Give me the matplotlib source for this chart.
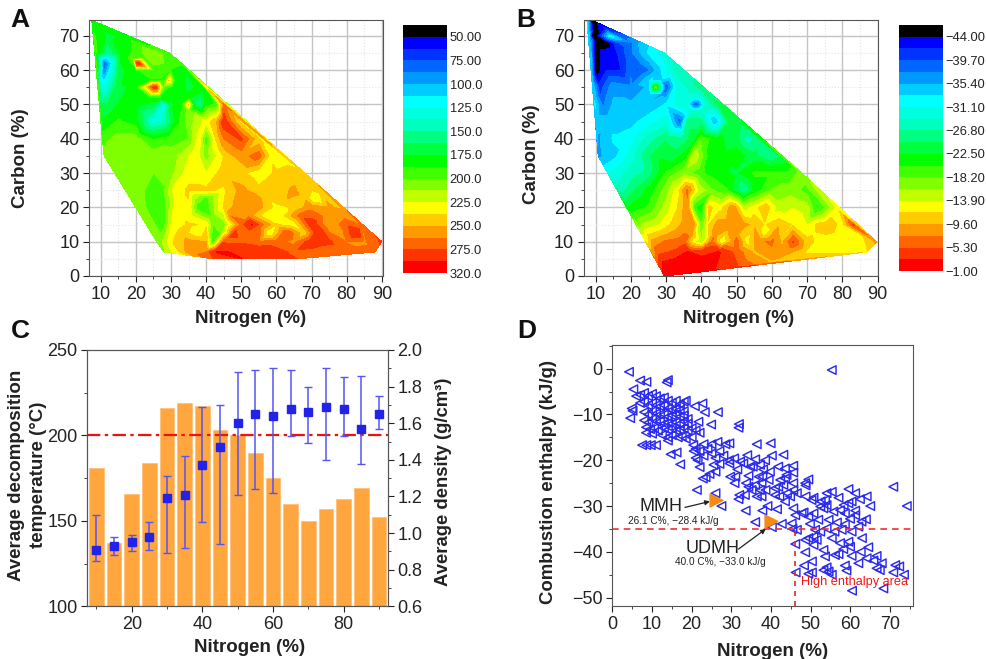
import matplotlib
matplotlib.use("Agg")
import matplotlib.pyplot as plt
from matplotlib.ticker import MultipleLocator
import numpy as np

# Data ---------------------------------------------------------------

# panel A, one row of readings per carbon level
a_carbon = [74.5, 70, 65, 63.5, 62, 60, 57, 55, 52, 50, 48, 45, 40, 35, 30, 25, 22.5, 20, 17.5, 15, 12.5, 10, 7, 5]
a_nitrogen = [
    [7.5],
    [8, 12, 16.5],
    [8.5, 12, 16, 20, 25, 29.5],
    [19, 22],
    [9, 11, 13, 20.5, 28, 33],
    [9, 11, 13, 15, 20, 25, 30, 34],
    [24, 27, 29.5, 31, 28],
    [9.5, 11, 15, 20, 25.5, 28, 30.5, 35, 39.5],
    [24, 27, 35],
    [10, 12, 15, 20, 25, 28, 30, 33, 35, 36.5, 38, 40, 43, 45],
    [35],
    [10.3, 15, 20, 25, 28, 32, 35, 40, 43, 45, 50],
    [10.5, 15, 20, 25, 30, 35, 38, 40, 43, 45, 50, 55],
    [11, 15, 20, 25, 30, 35, 37, 40, 43, 46, 50, 55, 58, 61],
    [14, 20, 25, 30, 35, 40, 45, 50, 55, 60, 65, 68],
    [17, 20, 25, 28, 31, 35, 40, 45, 50, 55, 60, 65, 70, 73],
    [33, 40, 48, 53, 58, 63, 68, 71],
    [20, 25, 28, 31, 35, 38, 40, 45, 50, 55, 60, 65, 70, 75, 78],
    [36, 41, 47, 52, 57, 62, 67, 73, 79],
    [23, 28, 30, 35, 40, 42, 45, 50, 53, 55, 60, 65, 70, 75, 80, 84],
    [33, 38, 44, 48, 52, 58, 63, 68, 72, 78, 83],
    [26, 28, 30, 35, 40, 42, 45, 50, 55, 60, 65, 70, 75, 80, 85, 90],
    [28, 35, 40, 43, 50, 55, 60, 65, 70, 80, 88],
    [42, 50, 60, 66],
]
a_temp = [
    [180],
    [190, 172, 178],
    [190, 150, 180, 192, 212, 190],
    [192, 196],
    [180, 72, 112, 296, 200, 190],
    [172, 85, 125, 168, 186, 195, 186, 175],
    [186, 186, 240, 186, 190],
    [150, 125, 172, 178, 290, 195, 182, 172, 180],
    [182, 182, 178],
    [165, 165, 175, 180, 170, 125, 172, 185, 242, 180, 150, 182, 190, 265],
    [205],
    [175, 190, 181, 130, 140, 185, 205, 230, 250, 285, 232],
    [195, 205, 205, 185, 195, 200, 230, 190, 240, 262, 278, 240],
    [205, 208, 208, 208, 205, 225, 235, 205, 225, 245, 256, 270, 235, 228],
    [208, 208, 200, 208, 232, 225, 245, 240, 230, 240, 245, 240],
    [210, 205, 195, 198, 230, 240, 240, 235, 255, 240, 245, 252, 238, 246],
    [235, 195, 250, 262, 240, 250, 248, 222],
    [207, 195, 195, 228, 235, 190, 190, 238, 262, 255, 232, 240, 258, 252, 248],
    [225, 200, 262, 258, 228, 235, 270, 262, 258],
    [205, 195, 225, 240, 235, 200, 205, 268, 300, 272, 238, 228, 285, 250, 272, 262],
    [244, 228, 200, 278, 262, 225, 275, 240, 290, 255, 290],
    [205, 215, 235, 255, 250, 188, 272, 272, 265, 268, 258, 285, 278, 262, 260, 278],
    [210, 255, 262, 300, 295, 288, 280, 272, 270, 265, 268],
    [275, 298, 282, 275],
]

a_ticks = [50, 75, 100, 125, 150, 175, 200, 225, 250, 275, 320]
a_tick_labels = ["50.00", "75.00", "100.0", "125.0", "150.0", "175.0", "200.0",
                 "225.0", "250.0", "275.0", "320.0"]

# panel B, same layout
b_carbon = [74.5, 72, 70, 68, 65, 60, 57, 55, 53, 52, 50, 48, 45, 40, 35, 30, 25, 20, 15, 12.5, 10, 7, 4, 2.7, 1.2, 0]
b_nitrogen = [
    [7.5, 9],
    [9.5, 13],
    [8, 9, 10, 14],
    [10, 13, 16, 20, 21.5],
    [8.5, 10, 12, 16, 20, 25, 29.5],
    [8.8, 10, 13, 17, 20, 22, 25, 28, 32],
    [25.5, 28.5],
    [9.3, 11, 15, 20, 25, 27, 30, 33, 37, 40],
    [25.5, 28.5],
    [37, 40],
    [9.8, 12, 15, 20, 25, 30, 35, 38.5, 41, 43, 45],
    [37, 40],
    [10.2, 14, 20, 25, 30, 34, 36, 40, 44, 48, 51],
    [10.5, 15, 20, 25, 30, 35, 38, 40, 45, 50, 53, 56],
    [10.7, 15, 20, 25, 28, 32, 36, 38, 42, 46, 50, 55, 60, 62],
    [14, 20, 25, 30, 35, 40, 45, 50, 55, 60, 65, 68.5],
    [17, 22, 26, 30, 33, 36, 39, 43, 47, 52, 55, 60, 65, 70, 73.5],
    [20, 25, 30, 33, 36, 38, 40, 42, 45, 49, 52, 55, 58, 62, 66, 70, 73, 78],
    [23, 28, 32, 35, 38, 40, 42, 45, 48, 52, 55, 58, 62, 66, 70, 73, 76, 80, 83],
    [30, 37, 44, 50, 58, 64, 72, 78, 84],
    [26, 30, 35, 38, 40, 43, 46, 48, 50, 53, 56, 60, 63, 66, 70, 75, 80, 85, 89.7],
    [27.5, 32, 36, 40, 45, 50, 55, 60, 65, 70, 80, 87],
    [29, 33, 40, 60],
    [50],
    [40],
    [29.5],
]
b_enth = [
    [-33, -46],
    [-46, -41],
    [-34, -46, -46, -32],
    [-46, -46, -40, -38, -36],
    [-34, -46, -43, -42, -38, -33, -30],
    [-36, -46, -42, -42, -38, -40, -38, -34, -29],
    [-33, -34],
    [-34, -41, -36, -37, -35, -18, -40, -31, -28, -26],
    [-34, -36],
    [-30, -30],
    [-33, -38, -35, -35, -35, -33, -29, -40, -31, -27, -24],
    [-29, -29],
    [-34, -34, -34, -32, -30, -39, -26, -26, -36, -24, -24],
    [-36, -33, -32, -28, -25, -26, -23, -19, -22, -24, -28, -26],
    [-36, -34, -30, -25, -23, -24, -21, -14, -21, -22, -21, -24, -27, -25],
    [-31, -28, -26, -20, -17, -20, -22, -23, -20, -20, -20, -17],
    [-28, -24, -21, -17, -13, -7, -14, -18, -20, -27, -22, -18, -17, -19, -15],
    [-22, -20, -15, -12, -8, -20, -22, -11, -13, -8, -15, -13, -10, -15, -14, -15, -21, -14],
    [-16, -14, -11, -9, -9, -18, -12, -8, -8, -9, -10, -12, -10, -12, -14, -11, -10, -13, -5],
    [-10, -8, -8, -9, -13, -12, -12, -12, -13],
    [-9, -7, -6, -14, -16, -7, -14, -10, -6, -13, -8, -7, -10, -5, -11, -13, -13, -13, -9],
    [-6, -5, -3, -4, -3, -6, -10, -8, -9, -12, -12, -12],
    [-3, -2, -2, -10],
    [-5],
    [-2],
    [-2],
]

b_ticks = [-44, -39.7, -35.4, -31.1, -26.8, -22.5, -18.2, -13.9, -9.6, -5.3, -1]
b_tick_labels = ["\u221244.00", "\u221239.70", "\u221235.40", "\u221231.10", "\u221226.80",
                 "\u221222.50", "\u221218.20", "\u221213.90", "\u22129.60", "\u22125.30", "\u22121.00"]

# panel C
c_nitrogen = [10, 15, 20, 25, 30, 35, 40, 45, 50, 55, 60, 65, 70, 75, 80, 85, 90]
c_decomp = [181, 137, 166, 184, 216, 219, 217, 203, 200, 190, 175, 160, 150, 157, 163, 169, 152]
c_density = [0.91, 0.93, 0.95, 0.98, 1.19, 1.21, 1.37, 1.47, 1.60, 1.65, 1.64, 1.68, 1.66, 1.69, 1.68, 1.57, 1.65]
c_density_hi = [1.10, 0.98, 0.99, 1.06, 1.31, 1.42, 1.69, 1.70, 1.88, 1.89, 1.90, 1.89, 1.80, 1.90, 1.85, 1.86, 1.75]
c_density_lo = [0.85, 0.88, 0.90, 0.91, 0.89, 0.92, 1.06, 0.94, 1.21, 1.24, 1.22, 1.53, 1.49, 1.40, 1.53, 1.38, 1.57]

# panel D
d_nitrogen = [
    4.2, 7, 8.6, 13.7, 14, 5.3, 4.9, 5.1, 4.5, 55.3,
    6, 7, 8, 9, 10, 11, 12, 13, 14, 15, 16, 17, 18, 18.5,
    7, 8, 9, 10, 11, 12, 13, 14, 15, 16, 17, 18,
    8, 9, 10, 11, 12, 13, 14, 15, 16, 17, 18, 19,
    8, 9, 10, 11, 12, 13, 14, 15, 16, 17, 18, 19,
    8.5, 9.5, 10.5, 11.5, 13, 14, 15, 16, 17, 18, 19, 20, 21, 22,
    8.5, 10, 12.5, 14, 15, 16.5, 17.5, 18.5, 20, 14,
    7.5, 8.6, 9.7, 11, 14.7, 16.2, 17.1,
    20.8, 22.7, 23.3, 26.6, 21.7, 24.9, 31.9, 31.8, 36.4, 39.9, 43.1,
    20.4, 21, 20.5, 22, 23, 24, 25, 26.5, 27, 25, 23, 21, 26, 28, 28.5, 29.5,
    21.5, 22, 25.5, 27, 26, 24.5, 23.5, 22.8, 21.3, 26, 27.5,
    29.4, 30.7, 29.5, 33, 34, 36, 38.5, 40.2, 32.2, 34.7, 35.4, 37.2,
    29.7, 31, 30.8, 31.5, 34.3, 33.7, 34.3, 35.1, 36.9, 37.8, 39.7, 38, 39.4, 41.8, 43.5, 45.6, 45.6,
    43.9, 43.5, 42.3, 41.8, 41, 43.1, 37.6, 36, 37.2, 38.6, 36.4, 37.6, 41, 42.1, 32, 31.8, 33.4,
    39.1, 37.8, 33.6, 36, 42.7, 40.2, 41.5, 43.5, 45.6, 45.6, 46.5, 44.8, 44, 45.6, 46.1, 47.7, 48.2,
    45.2, 46.5, 45.4, 46.1, 46.2,
    48.6, 49.4, 48.7, 48.7, 50.7, 50.2, 52.5, 53.6, 54, 55.3, 57, 59.5, 61.2, 64.1, 62.4, 60.3, 59.5, 65, 70.8, 74.2,
    50.7, 52.4, 54, 53.2, 55.7, 58.3, 57.4, 58.6, 61.2, 61.2, 59.9, 62.8, 63.9, 54.5, 51.9, 49.4, 49.8, 56.6, 58.6, 62,
    51.1, 52.4, 54, 56, 57.8, 60.3, 50.7, 55.3, 51.5, 49.4, 48.6, 50.7, 57.4, 59.5, 59.9, 62.9, 58.2, 64.5, 62.6,
    53.2, 48.6, 53.6, 56.1, 57, 60.3, 64.1, 66.6, 65.8, 67.9, 62, 50.3, 48.3, 58.6, 59, 66.6, 67.4, 71.3, 72.3, 70.8, 73.5,
    53.2, 54, 54.5, 55.3, 50.3, 49.4, 60.4, 68.3,
]
d_enthalpy = [
    -0.7, -2.6, -2.9, -3, -2.5, -4.5, -8.7, -9.2, -10.8, -0.3,
    -6, -5.7, -5.3, -6, -5.5, -6, -6.5, -6.3, -7, -7.5, -7, -7.8, -7.2, -7,
    -7.5, -7.2, -8, -7.5, -8, -8.2, -8, -8.7, -9, -8.8, -9, -9.3,
    -9.5, -10, -9.3, -9.8, -10, -10, -10.5, -10.2, -10, -10.5, -10.2, -11,
    -11.3, -11.8, -11, -11.5, -11.5, -12, -11.8, -12, -11.7, -12, -11.5, -12,
    -12.8, -13.2, -13, -13.5, -13, -13.3, -13, -13.5, -13.3, -13, -13.5, -13, -13.5, -14,
    -14, -14.2, -14.5, -15, -14.5, -15, -14.8, -15.3, -15, -15.7,
    -16.7, -16.7, -16.7, -16.7, -18.7, -18.3, -20.9,
    -8.2, -7.6, -9.5, -9.5, -11.6, -12.2, -12.1, -12.9, -16.5, -16.3, -18.8,
    -16.7, -17.5, -18, -18, -16.5, -17.5, -16.5, -16, -18, -18.5, -19, -19.5, -19.5, -19, -16.5, -16.3,
    -20, -21.5, -21, -20.8, -22.5, -23, -23.7, -24, -26.5, -27.2, -30,
    -20, -19.6, -20.7, -20.7, -18.9, -19.8, -20, -19, -20.3, -21.4, -21.4, -21,
    -23.6, -23.6, -25, -22, -23.4, -25, -25.8, -26.5, -23.6, -23.6, -22.5, -22, -24.3, -21.4, -21.8, -21.2, -22.7,
    -23.2, -24, -24.3, -25.8, -26.1, -25.4, -25, -25.4, -26.5, -26.5, -27.9, -27.9, -27.6, -27.9, -27.6, -28.5, -27.6,
    -30, -31, -31, -33.5, -33.9, -34.6, -30.7, -29, -25, -26.5, -27.2, -27.9, -27.2, -30.5, -32, -31.6, -31.4,
    -33.8, -35.2, -35, -38.3, -44.5,
    -25, -24.2, -25.5, -27.9, -28.2, -28.7, -29, -28.7, -27.2, -26.9, -28.2, -26.3, -27.2, -27.9, -28.5, -29, -29.4, -30, -25.8, -30,
    -31.6, -30.1, -29.8, -30.5, -31.2, -29.8, -30.9, -31.6, -31, -32, -32.8, -33.4, -32.9, -33, -33, -32.3, -33.9, -33.6, -34, -34.5,
    -35.2, -35.6, -34.9, -35.6, -35.2, -35.6, -36.7, -37, -37.4, -37, -37.4, -38.5, -38.1, -37.8, -38.9, -37, -39.4, -39, -40,
    -39.6, -40.1, -41, -40.7, -40.5, -40.9, -41.4, -40.9, -41.9, -42.5, -42.5, -42.1, -43, -43, -44.1, -43.6, -44, -42.9, -43.2, -44.5, -45,
    -44, -43.4, -44.3, -45, -44.5, -44.8, -48.5, -48,
]
d_named_nitrogen = [26.1, 40.0]
d_named_enthalpy = [-28.6, -33.3]

# Styles --------------------------------------------------------------

W, H = 986, 659
font_color = "#222222"
spine_color = "#555555"
tick_size = 13
label_size = 13.5

plt.rcParams["font.family"] = ["Liberation Sans", "DejaVu Sans"]
plt.rcParams["text.color"] = font_color
plt.rcParams["axes.labelcolor"] = font_color
plt.rcParams["xtick.color"] = font_color
plt.rcParams["ytick.color"] = font_color
plt.rcParams["axes.edgecolor"] = spine_color
plt.rcParams["axes.unicode_minus"] = True

# low value first: black at the top of the colour bars, red at the bottom
band_colors = ["#000000", "#0000ff", "#0033ff", "#0066ff", "#0099ff", "#00ccff", "#00ffff",
               "#00ffdf", "#00ffbf", "#00ff80", "#00ff40", "#00ff00", "#40ff00", "#80ff00",
               "#bfff00", "#ffff00", "#ffcc00", "#ff9900", "#ff6600", "#ff3300", "#ff0000"]

a_levels = [37.5 + 12.5 * i for i in range(20)] + [297.5, 320]
b_levels = [-46.15 + 2.15 * i for i in range(22)]
b_levels[-1] = -1


def px_axes(left, top, right, bottom):
    return fig.add_axes([left / W, 1 - bottom / H, (right - left) / W, (bottom - top) / H])


def flatten(carbon, nitrogen, values):
    x = [v for row in nitrogen for v in row]
    y = [c for c, row in zip(carbon, nitrogen) for _ in row]
    z = [v for row in values for v in row]
    return np.array(x), np.array(y), np.array(z)


def contour_panel(box, xlim, ylim, carbon, nitrogen, values, levels, cbox, ticks, tick_labels):
    ax = px_axes(*box)
    ax.set_xlim(*xlim)
    ax.set_ylim(*ylim)
    ax.set_axisbelow(True)
    ax.xaxis.set_major_locator(MultipleLocator(10))
    ax.xaxis.set_minor_locator(MultipleLocator(5))
    ax.yaxis.set_major_locator(MultipleLocator(10))
    ax.yaxis.set_minor_locator(MultipleLocator(5))
    ax.grid(True, which="major", color="#c4c4c4", lw=1.0)
    ax.grid(True, which="minor", color="#e6e6e6", lw=0.8, ls=":")
    ax.tick_params(which="major", length=4, labelsize=tick_size, pad=3)
    ax.tick_params(which="minor", length=2)

    x, y, z = flatten(carbon, nitrogen, values)
    cs = ax.tricontourf(x, y, z, levels=levels, colors=band_colors)

    cax = px_axes(*cbox)
    cb = fig.colorbar(cs, cax=cax, spacing="uniform", ticks=ticks)
    cb.ax.invert_yaxis()
    cb.ax.set_yticklabels(tick_labels)
    cb.ax.tick_params(length=0, labelsize=9.3, pad=2)
    cb.ax.minorticks_off()
    cb.outline.set_visible(False)
    return ax


fig = plt.figure(figsize=(W / 100, H / 100), dpi=100)

# A -------------------------------------------------------------------
ax_a = contour_panel((89, 20, 383, 276), (6.7, 90.3), (0, 74.6), a_carbon, a_nitrogen, a_temp,
                     a_levels, (403, 25, 447, 273), a_ticks, a_tick_labels)
ax_a.set_xlabel("Nitrogen (%)", fontweight="bold", fontsize=label_size)
ax_a.set_ylabel("Carbon (%)", fontweight="bold", fontsize=label_size)
ax_a.xaxis.set_label_coords(0.551, -0.133)
ax_a.yaxis.set_label_coords(-0.204, 0.46)

# B -------------------------------------------------------------------
ax_b = contour_panel((583.7, 20, 878.3, 276), (6.6, 90.2), (0, 74.6), b_carbon, b_nitrogen, b_enth,
                     b_levels, (899, 25, 943, 271), b_ticks, b_tick_labels)
ax_b.set_xlabel("Nitrogen (%)", fontweight="bold", fontsize=label_size)
ax_b.set_ylabel("Carbon (%)", fontweight="bold", fontsize=label_size)
ax_b.xaxis.set_label_coords(0.527, -0.133)
ax_b.yaxis.set_label_coords(-0.148, 0.475)

# C -------------------------------------------------------------------
ax_c = px_axes(87.3, 350, 387.7, 606.3)
ax_c.bar(c_nitrogen, c_decomp, 4.2, color="#ffa63f", edgecolor="#ffc07a", linewidth=0.6)
ax_c.axhline(200, color="#f01010", lw=1.6, ls=(0, (6, 2, 1.5, 2)), zorder=5)
ax_c.set_xlim(7.43, 92.45)
ax_c.set_ylim(100, 250)
ax_c.xaxis.set_major_locator(MultipleLocator(20))
ax_c.xaxis.set_minor_locator(MultipleLocator(10))
ax_c.yaxis.set_major_locator(MultipleLocator(50))
ax_c.yaxis.set_minor_locator(MultipleLocator(25))
ax_c.tick_params(which="major", length=4, labelsize=tick_size, pad=3)
ax_c.tick_params(which="minor", length=2)
ax_c.set_xlabel("Nitrogen (%)", fontweight="bold", fontsize=label_size)
ax_c.xaxis.set_label_coords(0.54, -0.128)
ax_c.set_ylabel("Average decomposition\ntemperature (\u00b0C)", fontweight="bold", fontsize=13.5, linespacing=1.4)
ax_c.yaxis.set_label_coords(-0.134, 0.512)

ax_c2 = ax_c.twinx()
density = np.array(c_density)
yerr = [density - np.array(c_density_lo), np.array(c_density_hi) - density]
ax_c2.errorbar(c_nitrogen, density, yerr=yerr, fmt="s", color="#5555f2", ecolor="#5555f2", markerfacecolor="#2222e8",
               markeredgecolor="#2222e8", markersize=5.2, elinewidth=1.1, capsize=3, capthick=1.0)
ax_c2.set_ylim(0.6, 2.0)
ax_c2.yaxis.set_major_locator(MultipleLocator(0.2))
ax_c2.yaxis.set_minor_locator(MultipleLocator(0.1))
ax_c2.tick_params(which="major", length=4, labelsize=tick_size, pad=3)
ax_c2.tick_params(which="minor", length=2)
ax_c2.set_ylabel("Average density (g/cm\u00b3)", fontweight="bold", fontsize=13.3)
ax_c2.yaxis.set_label_coords(1.157, 0.486)

# D -------------------------------------------------------------------
ax_d = px_axes(612.3, 345.3, 912.7, 606.3)
ax_d.set_xlim(0, 75.7)
ax_d.set_ylim(-51.9, 5.1)
ax_d.scatter(d_nitrogen, d_enthalpy, marker="<", s=38, facecolors="none", edgecolors="#2a2af0", linewidths=1.05)
ax_d.scatter(d_named_nitrogen, d_named_enthalpy, marker=">", s=85, color="#f58a12", zorder=4)
ax_d.axhline(-35, color="#f03030", lw=1.2, ls=(0, (4, 3)))
ax_d.plot([46, 46], [-51.9, -35], color="#f02020", lw=1.2, ls=(0, (3, 3)))
ax_d.xaxis.set_major_locator(MultipleLocator(10))
ax_d.xaxis.set_minor_locator(MultipleLocator(5))
ax_d.yaxis.set_major_locator(MultipleLocator(10))
ax_d.yaxis.set_minor_locator(MultipleLocator(5))
ax_d.tick_params(which="major", length=4, labelsize=tick_size, pad=3)
ax_d.tick_params(which="minor", length=2)
ax_d.set_xlabel("Nitrogen (%)", fontweight="bold", fontsize=label_size)
ax_d.xaxis.set_label_coords(0.532, -0.142)
ax_d.set_ylabel("Combustion enthalpy (kJ/g)", fontweight="bold", fontsize=13.4)
ax_d.yaxis.set_label_coords(-0.184, 0.475)

ax_d.text(12.2, -30.1, "MMH", fontsize=13, ha="center", va="center")
ax_d.text(15.4, -33.2, "26.1 C%, \u221228.4 kJ/g", fontsize=7.2, ha="center", va="center")
ax_d.text(25.2, -39.3, "UDMH", fontsize=13, ha="center", va="center")
ax_d.text(27.1, -42.3, "40.0 C%, \u221233.0 kJ/g", fontsize=7.2, ha="center", va="center")
ax_d.text(61, -46.7, "High enthalpy area", fontsize=9.2, color="#f01818", ha="center", va="center")
ax_d.annotate("", xy=(24.6, -29), xytext=(18.3, -30.3),
              arrowprops=dict(arrowstyle="-|>", color="#222222", lw=0.9, mutation_scale=7, shrinkA=0, shrinkB=0))
ax_d.annotate("", xy=(38.7, -35), xytext=(31.8, -39.4),
              arrowprops=dict(arrowstyle="-|>", color="#222222", lw=0.9, mutation_scale=7, shrinkA=0, shrinkB=0))

# panel letters
for letter, x, y in [("A", 20, 20), ("B", 526, 20), ("C", 20, 331), ("D", 527, 331)]:
    fig.text(x / W, 1 - y / H, letter, fontsize=19, fontweight="bold", color="#111111", ha="center", va="center")

fig.savefig("out.png", dpi=100)
